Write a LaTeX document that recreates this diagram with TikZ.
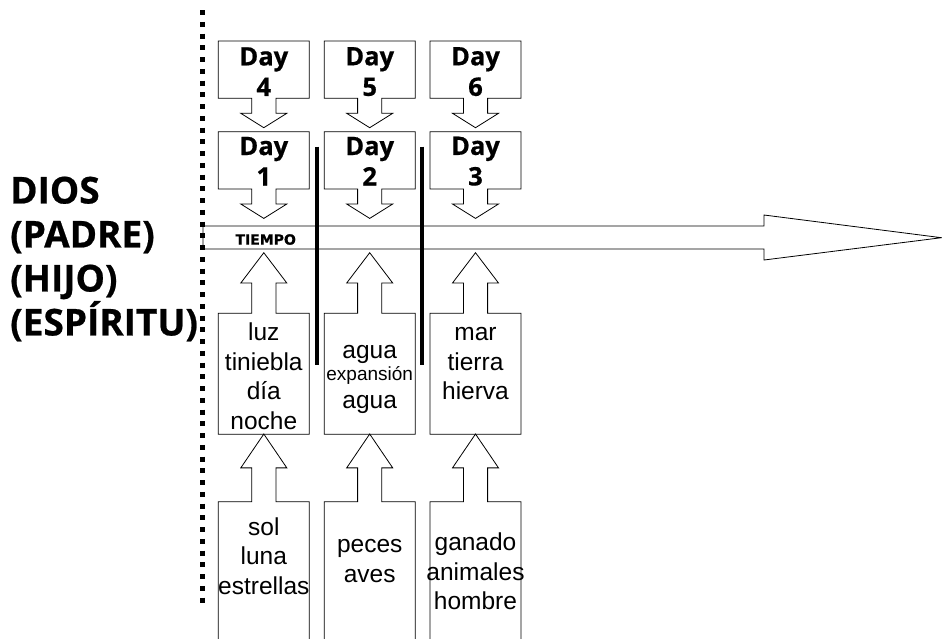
\documentclass[tikz,border=0pt]{standalone}
\usepackage{fontspec}
\setmainfont{Liberation Sans}
\newfontfamily\headfont{Open Sans}[BoldFeatures={FakeBold=0.6}]
\newfontfamily\timefont{DejaVu Sans}[BoldFeatures={FakeBold=0.8}]
\usetikzlibrary{positioning}
\tikzset{
  box line/.style={draw, line width=0.8pt, fill=white, line join=miter},
  pics/down box/.style={code={
    \draw[box line] (-45.5,0) -- (45.5,0) -- (45.5,57.3) -- (12.1,57.3)
      -- (12.1,72.3) -- (23,72.3) -- (0,86.7) -- (-23,72.3) -- (-12.1,72.3)
      -- (-12.1,57.3) -- (-45.5,57.3) -- cycle;
  }},
  pics/up box/.style 2 args={code={
    \draw[box line] (0,0) -- (23,#1/2) -- (12.1,#1/2) -- (12.1,#1)
      -- (45.5,#1) -- (45.5,#2) -- (-45.5,#2) -- (-45.5,#1) -- (-12.1,#1)
      -- (-12.1,#1/2) -- (-23,#1/2) -- cycle;
  }},
  day/.style={
    font=\headfont\bfseries\fontsize{25.5}{30.5}\selectfont,
    align=center, inner sep=0pt,
  },
  item/.style={
    font=\fontsize{24.5}{29.5}\selectfont,
    align=center, inner sep=0pt,
  },
  divider/.style={line width=3.8pt},
}

\begin{document}
\begin{tikzpicture}[x=1pt, y=-1pt]
\useasboundingbox (0,0) rectangle (942,638);
% time arrow
\draw[box line] (203,226) -- (764,226) -- (764,215) -- (941.5,237.7)
  -- (764,260) -- (764,249) -- (203,249) -- cycle;
\node[font=\timefont\bfseries\fontsize{14}{16}\selectfont, inner sep=0pt]
  (tiempo) at (265.7,239.5) {TIEMPO};
% day columns
\foreach \x/\a/\b in { 263.8/4/1, 369.7/5/2, 475.5/6/3 } {
  \pic at (\x,41) {down box};
  \pic at (\x,131.7) {down box};
  \pic at (\x,252.7) {up box={60.6}{181.6}};
  \pic at (\x,434) {up box={67.7}{210}};
  \node[day] (day-\a) at (\x,71.6) {Day\\\a};
  \node[day] (day-\b) at (\x,161.2) {Day\\\b};
}
\draw[divider] (316.7,146.7) -- (316.7,365);
\draw[divider] (422.3,146.7) -- (422.3,365);

\node[item] (mid-1) at (263.8,376) {luz\\tiniebla\\día\\noche};
\node[item, anchor=base] (agua-1) at (369.7,358.3) {agua};
\node[item, anchor=base, font=\fontsize{19}{21}\selectfont] (expansion) at (369.7,380) {expansión};
\node[item, anchor=base] (agua-2) at (369.7,408.3) {agua};
\node[item] (mid-3) at (475.5,364) {mar\\tierra\\hierva};

\node[item] (low-1) at (263.8,556) {sol\\luna\\estrellas};
\node[item] (low-2) at (369.7,561) {peces\\aves};
\node[item] (low-3) at (475.5,571.5) {ganado\\animales\\hombre};

% god
\node[font=\headfont\bfseries\fontsize{37}{44}\selectfont, align=left,
  inner sep=0pt, anchor=west] (dios) at (10,259)
  {DIOS\\(PADRE)\\(HIJO)\\(ESPÍRITU)};
\draw[line width=5pt, dash pattern=on 5pt off 6.75pt] (202.5,10) -- (202.5,603);
\end{tikzpicture}
\end{document}
